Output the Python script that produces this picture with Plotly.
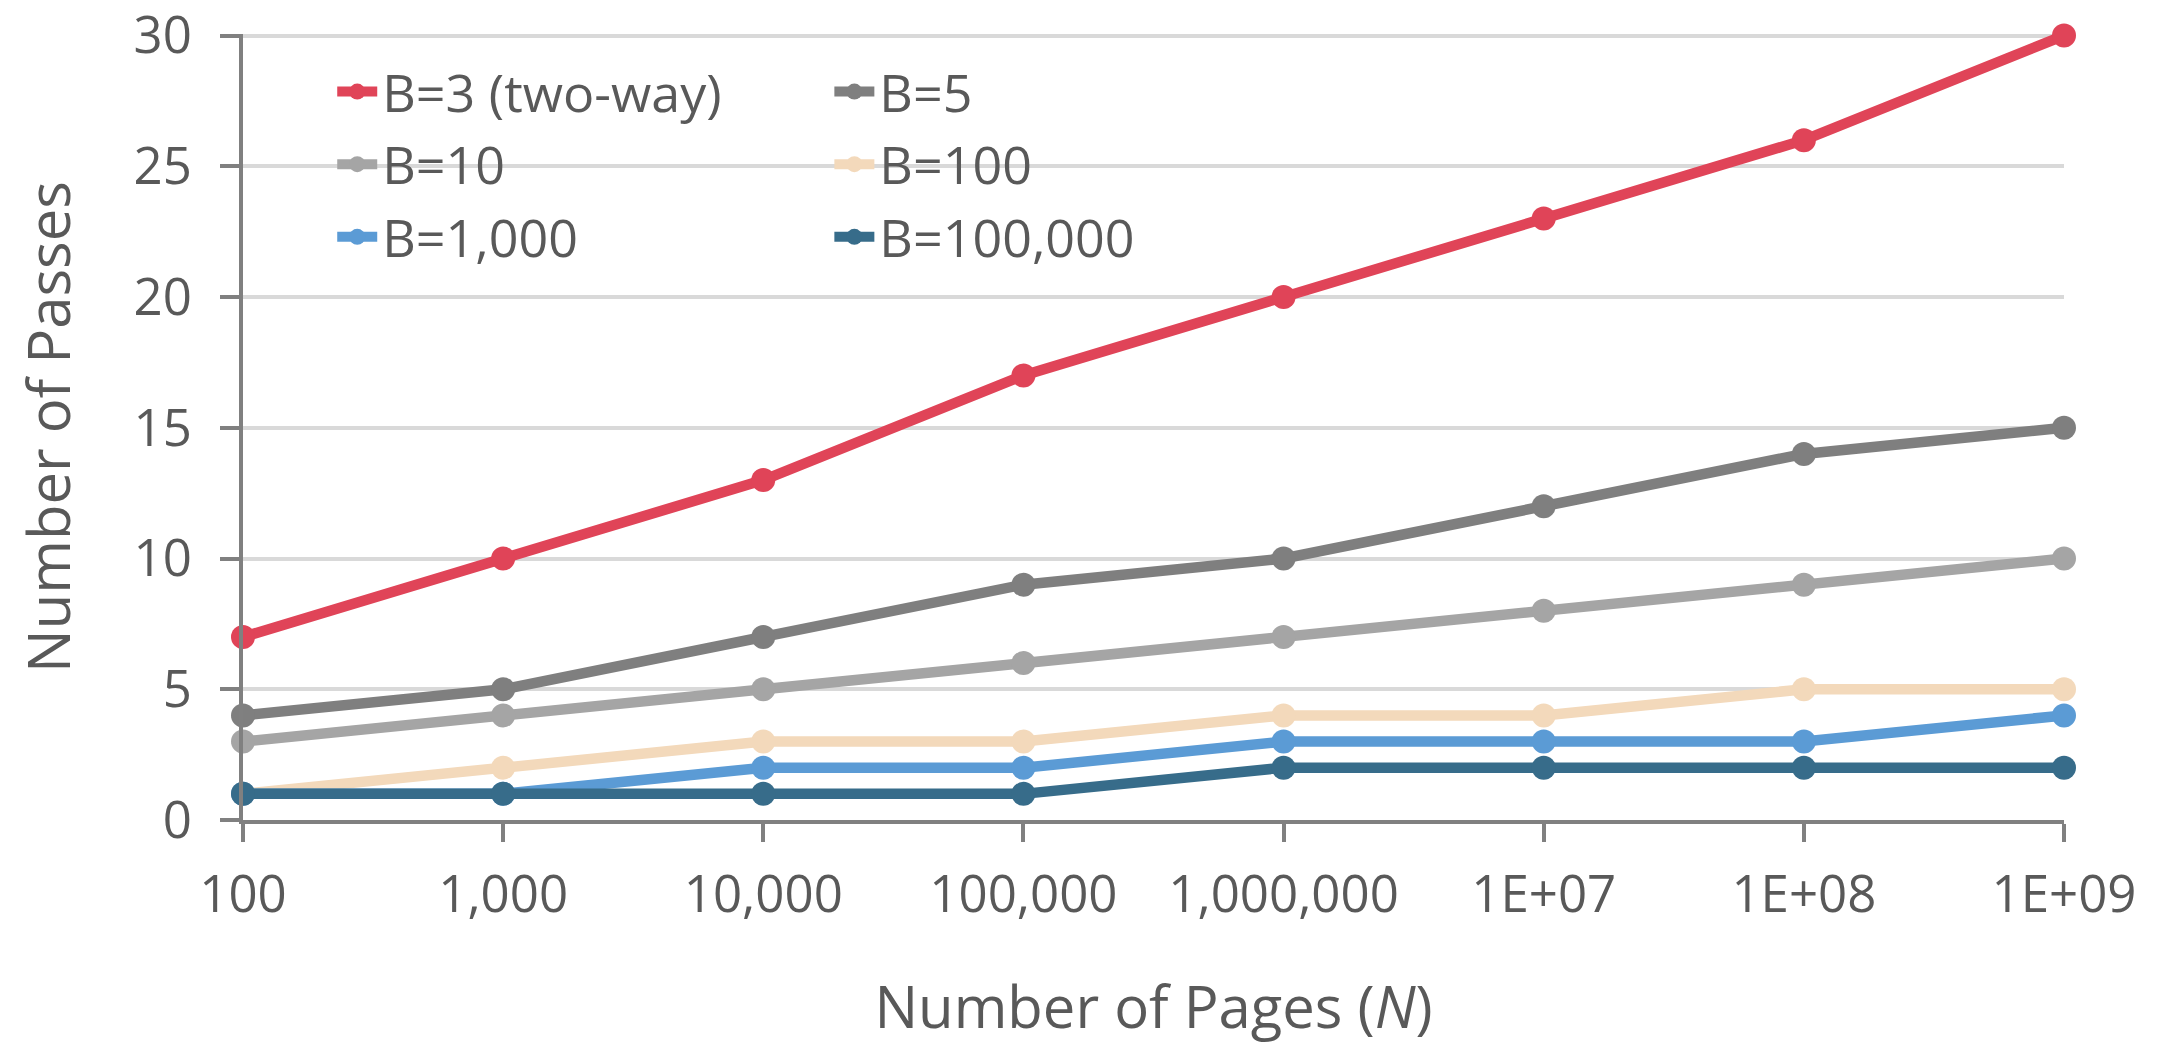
import plotly.graph_objects as go

pages = ["100", "1,000", "10,000", "100,000", "1,000,000", "1E+07", "1E+08", "1E+09"]
series_names = ["B=3 (two-way)", "B=5", "B=10", "B=100", "B=1,000", "B=100,000"]
b3 = [7, 10, 13, 17, 20, 23, 26, 30]
b5 = [4, 5, 7, 9, 10, 12, 14, 15]
b10 = [3, 4, 5, 6, 7, 8, 9, 10]
b100 = [1, 2, 3, 3, 4, 4, 5, 5]
b1000 = [1, 1, 2, 2, 3, 3, 3, 4]
b100000 = [1, 1, 1, 1, 2, 2, 2, 2]
y_ticks = [0, 5, 10, 15, 20, 25, 30]

series_values = [b3, b5, b10, b100, b1000, b100000]
colors = ["#E04458", "#7F7F7F", "#A5A5A5", "#F3D9BB", "#5B9BD5", "#376C8A"]
legend_ids = ["legend", "legend2", "legend", "legend2", "legend", "legend2"]

TEXT = "#595959"
AXIS = "#808080"
GRID = "#D9D9D9"
FONT = "Open Sans"

fig = go.Figure()
for name, vals, col, lg in zip(series_names, series_values, colors, legend_ids):
    fig.add_trace(go.Scatter(
        x=pages, y=vals, name=name, mode="lines+markers",
        line=dict(color=col, width=10.5),
        marker=dict(color=col, size=24),
        cliponaxis=False, legend=lg, legendgroup=name,
    ))

legend_common = dict(
    bgcolor="rgba(255,255,255,0)", orientation="v",
    font=dict(family=FONT, size=52, color=TEXT),
    xanchor="left", yanchor="top", borderwidth=0, itemwidth=40,
    tracegroupgap=2,
)

# white backing behind the legend block (hides the gridline there, as in the original)
fig.add_shape(type="rect", xref="paper", yref="paper",
              x0=0.0165, x1=0.565, y0=0.74, y1=0.93,
              fillcolor="white", line=dict(width=0), layer="between")

fig.update_layout(
    width=2151, height=1037,
    margin=dict(l=235, r=95, t=26, b=225, autoexpand=False),
    paper_bgcolor="white", plot_bgcolor="white",
    font=dict(family=FONT, size=52, color=TEXT),
    showlegend=True,
    legend=dict(x=0.049, y=0.978, **legend_common),
    legend2=dict(x=0.322, y=0.978, **legend_common),
    xaxis=dict(
        type="category", range=[0, 7], showgrid=False, zeroline=False,
        showline=True, linecolor=AXIS, linewidth=4, automargin=False,
        ticks="outside", ticklen=18, tickwidth=4, tickcolor=AXIS,
        tickfont=dict(family=FONT, size=51, color=TEXT),
        ticklabelstandoff=9, ticklabeloverflow="allow",
        title=dict(text="Number of Pages (<i>N</i>)", font=dict(family=FONT, size=58, color=TEXT), standoff=76),
    ),
    yaxis=dict(
        range=[0, 30.06], tickvals=y_ticks, showgrid=True, gridcolor=GRID, gridwidth=4,
        zeroline=False, showline=True, linecolor=AXIS, linewidth=4, automargin=False,
        ticks="outside", ticklen=19, tickwidth=4, tickcolor=AXIS,
        tickfont=dict(family=FONT, size=51, color=TEXT),
        ticklabelstandoff=18, ticklabeloverflow="allow",
        title=dict(text="Number of Passes", font=dict(family=FONT, size=58, color=TEXT), standoff=71),
    ),
)

fig.write_html("out.html")
